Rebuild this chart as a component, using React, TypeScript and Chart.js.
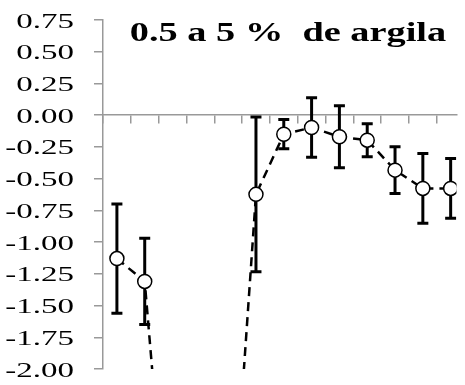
import React, { useEffect, useRef } from 'react';
import { Chart, registerables } from 'chart.js';

Chart.register(...registerables);

const categories = ['1', '2', '3', '4', '5', '6', '7', '8', '9', '10', '11', '12', '13'];
const means = [-1.13, -1.31, -3.9, -4.3, -3.8, -0.624, -0.15, -0.097, -0.17, -0.197, -0.433, -0.577, -0.577];
const errors: (number | null)[] = [0.43, 0.34, null, null, null, 0.61, 0.115, 0.235, 0.245, 0.13, 0.185, 0.275, 0.235];
const yTickValues = [0.75, 0.5, 0.25, 0, -0.25, -0.5, -0.75, -1, -1.25, -1.5, -1.75, -2];
const yTickLabels = ['0.75', '0.50', '0.25', '0.00', '-0.25', '-0.50', '-0.75', '-1.00', '-1.25', '-1.50', '-1.75', '-2.00'];
const titleText = '0.5 a 5 %  de argila';

const SERIF = '"Liberation Serif", "Times New Roman", serif';

const errorBarPlugin = {
  id: 'errorBars',
  beforeDatasetsDraw(chart: any) {
    const { ctx, chartArea, scales } = chart;
    const xs = scales.x;
    const ys = scales.y;
    ctx.save();
    ctx.beginPath();
    ctx.rect(chartArea.left, chartArea.top - 20, chartArea.right - chartArea.left, chartArea.bottom - chartArea.top + 20);
    ctx.clip();
    ctx.strokeStyle = '#000';
    ctx.lineWidth = 3;
    categories.forEach((_, i) => {
      const e = errors[i];
      if (e == null) return;
      const x = xs.getPixelForValue(i + 0.5);
      const yTop = ys.getPixelForValue(means[i] + e);
      const yBot = ys.getPixelForValue(means[i] - e);
      ctx.beginPath();
      ctx.moveTo(x, yTop);
      ctx.lineTo(x, yBot);
      ctx.moveTo(x - 5.5, yTop);
      ctx.lineTo(x + 5.5, yTop);
      ctx.moveTo(x - 5.5, yBot);
      ctx.lineTo(x + 5.5, yBot);
      ctx.stroke();
    });
    ctx.restore();
  },
};

const textPlugin = {
  id: 'texts',
  afterDraw(chart: any) {
    const { ctx, scales } = chart;
    const ys = scales.y;
    ctx.save();
    ctx.fillStyle = '#000';
    ctx.font = '22px ' + SERIF;
    yTickValues.forEach((v, i) => {
      const y = ys.getPixelForValue(v);
      ctx.save();
      ctx.translate(74, y + 7.5);
      ctx.scale(1.5, 1);
      ctx.textAlign = 'right';
      ctx.textBaseline = 'alphabetic';
      ctx.fillText(yTickLabels[i], 0, 0);
      ctx.restore();
    });
    ctx.font = 'bold 27px ' + SERIF;
    ctx.textAlign = 'center';
    ctx.textBaseline = 'alphabetic';
    ctx.translate(288, 41);
    ctx.scale(1.42, 1);
    ctx.fillText(titleText, 0, 0);
    ctx.restore();
  },
};

export default function App() {
  const ref = useRef<HTMLCanvasElement>(null);
  useEffect(() => {
    const canvas = ref.current;
    if (!canvas) return;
    const chart = new Chart(canvas, {
      type: 'line',
      data: {
        datasets: [
          {
            data: categories.map((_, i) => ({ x: i + 0.5, y: means[i] })),
            borderColor: '#000',
            borderWidth: 2.5,
            borderDash: [9, 6],
            pointRadius: 7,
            pointBorderWidth: 1.5,
            pointBackgroundColor: '#fff',
            pointBorderColor: '#000',
            clip: 0,
            tension: 0,
          } as any,
        ],
      },
      options: {
        responsive: false,
        animation: false,
        layout: { padding: { left: 0, top: 20, right: 0, bottom: 16 } },
        plugins: { legend: { display: false }, tooltip: { enabled: false }, title: { display: false } },
        scales: {
          x: {
            type: 'linear',
            position: { y: 0 } as any,
            min: 0,
            max: 12.71,
            ticks: { stepSize: 1, display: false, includeBounds: false },
            grid: { drawOnChartArea: false, drawTicks: true, tickLength: 8, color: '#999', lineWidth: 1.5 },
            border: { color: '#999', width: 1.5 },
          },
          y: {
            type: 'linear',
            min: -2,
            max: 0.75,
            ticks: { stepSize: 0.25, display: false },
            grid: { drawOnChartArea: false, drawTicks: true, tickLength: 9, color: '#999', lineWidth: 1.5 },
            border: { color: '#999', width: 1.5 },
            afterFit: (s: any) => {
              s.width = 103;
            },
          },
        },
      },
      plugins: [errorBarPlugin, textPlugin],
    });
    return () => {
      chart.destroy();
    };
  }, []);
  return (
    <div style={{ position: 'absolute', left: 0, top: 0, width: 465, height: 385, overflow: 'hidden', background: '#fff' }}>
      <canvas ref={ref} width={465} height={385} />
    </div>
  );
}
